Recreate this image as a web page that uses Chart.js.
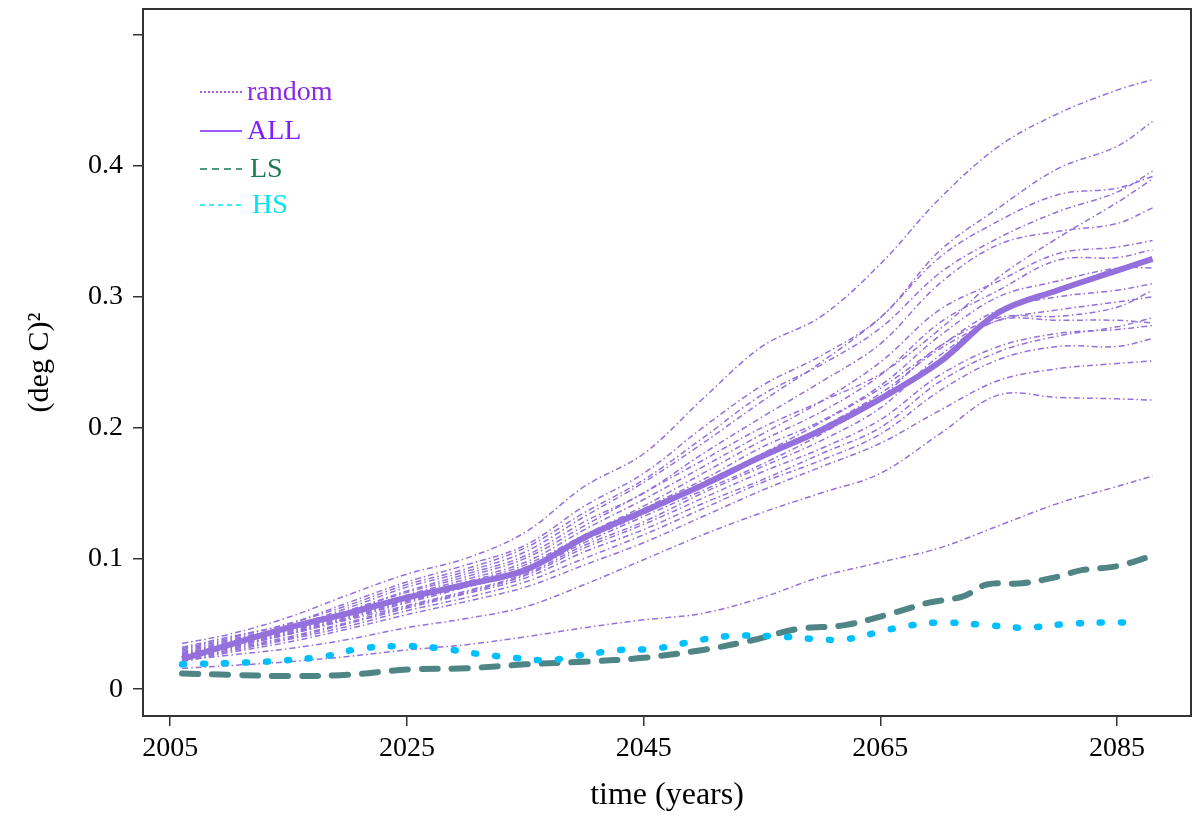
<!DOCTYPE html>
<html>
<head>
<meta charset="utf-8">
<script src="https://cdn.jsdelivr.net/npm/chart.js@4"></script>
<style>
  html, body { margin: 0; padding: 0; background: #fff; }
  #wrap { width: 1200px; height: 823px; }
</style>
</head>
<body>
<div id="wrap"><canvas id="c" width="1200" height="823"></canvas></div>
<script>
// ---------- DATA ----------
const years = [2006, 2010, 2015, 2020, 2025, 2030, 2035, 2040, 2045, 2050, 2055, 2060, 2065, 2070, 2075, 2080, 2085, 2088];

const allVals = [0.023, 0.034, 0.047, 0.058, 0.070, 0.080, 0.091, 0.116, 0.136, 0.156, 0.178, 0.198, 0.222, 0.250, 0.288, 0.305, 0.320, 0.329];

const random01 = [0.035, 0.042, 0.055, 0.072, 0.088, 0.100, 0.120, 0.155, 0.180, 0.222, 0.262, 0.285, 0.325, 0.375, 0.415, 0.440, 0.458, 0.466];
const random02 = [0.032, 0.040, 0.050, 0.066, 0.082, 0.095, 0.110, 0.140, 0.165, 0.200, 0.232, 0.255, 0.284, 0.335, 0.368, 0.398, 0.415, 0.434];
const random03 = [0.030, 0.038, 0.048, 0.062, 0.078, 0.090, 0.105, 0.132, 0.158, 0.188, 0.220, 0.250, 0.284, 0.330, 0.358, 0.378, 0.383, 0.392];
const random04 = [0.028, 0.036, 0.046, 0.060, 0.074, 0.086, 0.100, 0.125, 0.150, 0.175, 0.200, 0.220, 0.241, 0.275, 0.315, 0.345, 0.372, 0.390];
const random05 = [0.029, 0.037, 0.047, 0.060, 0.075, 0.088, 0.102, 0.128, 0.150, 0.180, 0.208, 0.235, 0.264, 0.310, 0.340, 0.350, 0.356, 0.368];
const random06 = [0.027, 0.035, 0.045, 0.058, 0.072, 0.084, 0.097, 0.122, 0.145, 0.170, 0.195, 0.220, 0.250, 0.290, 0.312, 0.333, 0.338, 0.343];
const random07 = [0.026, 0.034, 0.044, 0.057, 0.070, 0.082, 0.095, 0.118, 0.140, 0.165, 0.190, 0.212, 0.240, 0.280, 0.305, 0.328, 0.330, 0.336];
const random08 = [0.025, 0.033, 0.043, 0.055, 0.068, 0.080, 0.093, 0.115, 0.138, 0.160, 0.185, 0.205, 0.232, 0.270, 0.300, 0.312, 0.322, 0.322];
const random09 = [0.024, 0.032, 0.042, 0.054, 0.066, 0.078, 0.090, 0.112, 0.132, 0.152, 0.172, 0.195, 0.223, 0.262, 0.284, 0.285, 0.292, 0.305];
const random10 = [0.026, 0.033, 0.042, 0.053, 0.064, 0.075, 0.088, 0.110, 0.128, 0.150, 0.170, 0.190, 0.215, 0.255, 0.282, 0.282, 0.282, 0.280];
const random11 = [0.022, 0.030, 0.039, 0.050, 0.062, 0.073, 0.085, 0.105, 0.122, 0.142, 0.160, 0.180, 0.200, 0.235, 0.258, 0.270, 0.277, 0.284];
const random12 = [0.022, 0.029, 0.038, 0.048, 0.060, 0.070, 0.082, 0.100, 0.118, 0.138, 0.158, 0.175, 0.195, 0.228, 0.252, 0.262, 0.262, 0.268];
const random13 = [0.021, 0.028, 0.036, 0.046, 0.057, 0.067, 0.078, 0.095, 0.112, 0.132, 0.152, 0.170, 0.188, 0.213, 0.236, 0.245, 0.249, 0.251];
const random14 = [0.022, 0.026, 0.031, 0.038, 0.047, 0.054, 0.063, 0.080, 0.099, 0.118, 0.135, 0.150, 0.165, 0.195, 0.225, 0.223, 0.222, 0.221];
const random15 = [0.016, 0.018, 0.021, 0.025, 0.030, 0.034, 0.040, 0.047, 0.053, 0.058, 0.070, 0.086, 0.097, 0.108, 0.125, 0.142, 0.155, 0.163];
const random16 = [0.031, 0.039, 0.050, 0.064, 0.080, 0.092, 0.108, 0.135, 0.160, 0.192, 0.225, 0.248, 0.276, 0.318, 0.345, 0.365, 0.380, 0.396];
const random17 = [0.025, 0.032, 0.042, 0.054, 0.067, 0.079, 0.091, 0.114, 0.134, 0.156, 0.178, 0.200, 0.226, 0.260, 0.282, 0.290, 0.296, 0.300];
const random18 = [0.023, 0.031, 0.040, 0.051, 0.063, 0.074, 0.087, 0.108, 0.126, 0.146, 0.166, 0.184, 0.206, 0.240, 0.262, 0.272, 0.275, 0.278];
const random19 = [0.027, 0.034, 0.044, 0.056, 0.069, 0.080, 0.093, 0.116, 0.136, 0.158, 0.180, 0.204, 0.230, 0.262, 0.290, 0.300, 0.305, 0.310];

const lsYears = [2006, 2010, 2015, 2020, 2025, 2030, 2035, 2040, 2045, 2050, 2054, 2058, 2062, 2066, 2069, 2072, 2074, 2077, 2080, 2082, 2085, 2088];
const lsVals  = [0.012, 0.011, 0.010, 0.011, 0.015, 0.016, 0.019, 0.021, 0.024, 0.030, 0.037, 0.046, 0.049, 0.058, 0.066, 0.071, 0.080, 0.081, 0.086, 0.091, 0.094, 0.102];

const hsYears = [2006, 2010, 2013, 2018, 2021, 2025, 2028, 2031, 2034, 2037, 2039, 2043, 2046, 2050, 2053, 2057, 2060, 2062, 2065, 2067, 2070, 2074, 2077, 2081, 2084, 2087];
const hsVals  = [0.019, 0.020, 0.021, 0.025, 0.031, 0.033, 0.031, 0.027, 0.024, 0.022, 0.025, 0.030, 0.031, 0.038, 0.041, 0.040, 0.038, 0.038, 0.044, 0.048, 0.051, 0.049, 0.047, 0.050, 0.051, 0.051];

const xTicks = [2005, 2025, 2045, 2065, 2085];
const yTicks = [0, 0.1, 0.2, 0.3, 0.4, 0.5];
const yTickLabels = ['0', '0.1', '0.2', '0.3', '0.4', ''];

const legendLabels = ['random', 'ALL', 'LS', 'HS'];

// ---------- BUILD ----------
const randomSeries = [random01, random02, random03, random04, random05, random06, random07, random08, random09, random10,
                      random11, random12, random13, random14, random15, random16, random17, random18, random19];

const pts = (xs, ys) => xs.map((x, i) => ({ x: x, y: ys[i] }));

const PURPLE = '#9370DB';
const datasets = [];
datasets.push({ label: 'HS', data: pts(hsYears, hsVals), borderColor: '#00BFFF', borderWidth: 6.5,
  borderDash: [2, 19], borderCapStyle: 'round', tension: 0.35, pointRadius: 0 });
datasets.push({ label: 'LS', data: pts(lsYears, lsVals), borderColor: '#4F8585', borderWidth: 6,
  borderDash: [16, 14], borderCapStyle: 'round', tension: 0.35, pointRadius: 0 });
datasets.push({ label: 'ALL', data: pts(years, allVals), borderColor: PURPLE, borderWidth: 6,
  tension: 0.35, pointRadius: 0 });
randomSeries.forEach((s, k) => {
  datasets.push({ label: 'random ' + (k + 1), data: pts(years, s), borderColor: PURPLE, borderWidth: 1.5,
    borderDash: [6, 3, 1.5, 3], tension: 0.35, pointRadius: 0 });
});

const SERIF = "'Liberation Serif', 'Times New Roman', serif";

const boxPlugin = {
  id: 'box',
  afterDraw(chart) {
    const { ctx, chartArea: a } = chart;
    ctx.save();
    ctx.strokeStyle = '#333';
    ctx.lineWidth = 2;
    ctx.strokeRect(a.left, a.top, a.right - a.left, a.bottom - a.top);
    ctx.restore();
  }
};

const legendStyles = [
  { color: '#8A2BE2', dash: [2, 2], x: 247, y: 100 },
  { color: '#7F1FFF', dash: [], x: 247, y: 139 },
  { color: '#1A7A52', dash: [7, 5], x: 250, y: 177 },
  { color: '#00E5EE', dash: [5, 4], x: 252, y: 213 }
];
const legendPlugin = {
  id: 'customLegend',
  afterDraw(chart) {
    const ctx = chart.ctx;
    ctx.save();
    ctx.font = '28px ' + SERIF;
    ctx.textBaseline = 'alphabetic';
    legendLabels.forEach((lab, i) => {
      const st = legendStyles[i];
      ctx.strokeStyle = st.color;
      ctx.lineWidth = 1.5;
      ctx.setLineDash(st.dash);
      ctx.beginPath();
      ctx.moveTo(200, st.y - 8);
      ctx.lineTo(242, st.y - 8);
      ctx.stroke();
      ctx.setLineDash([]);
      ctx.fillStyle = st.color;
      ctx.fillText(lab, st.x, st.y);
    });
    ctx.restore();
  }
};

new Chart(document.getElementById('c'), {
  type: 'line',
  data: { datasets: datasets },
  options: {
    responsive: false,
    animation: false,
    layout: { padding: { top: 9, right: 9, left: 0, bottom: 0 } },
    plugins: { legend: { display: false }, tooltip: { enabled: false } },
    scales: {
      x: {
        type: 'linear',
        min: 2002.7,
        max: 2091.25,
        afterBuildTicks: (s) => { s.ticks = xTicks.map(v => ({ value: v })); },
        afterFit: (s) => { s.height = 107; s.paddingLeft = 0; s.paddingRight = 0; },
        ticks: { color: '#000', font: { family: SERIF, size: 28 }, padding: 6, maxRotation: 0,
                 callback: (v) => String(v) },
        grid: { drawOnChartArea: false, drawTicks: true, tickLength: 10, color: '#333', lineWidth: 1.5 },
        border: { display: true, color: '#333', width: 2 },
        title: { display: true, text: 'time (years)', color: '#000',
                 font: { family: SERIF, size: 32 }, padding: { top: 0, bottom: 8 } }
      },
      y: {
        type: 'linear',
        min: -0.0205,
        max: 0.52,
        afterBuildTicks: (s) => { s.ticks = yTicks.map(v => ({ value: v })); },
        afterFit: (s) => { s.width = 143; s.paddingTop = 0; s.paddingBottom = 0; },
        ticks: { color: '#000', font: { family: SERIF, size: 28 }, padding: 10,
                 callback: (v) => { const i = yTicks.findIndex(t => Math.abs(t - v) < 1e-9); return i >= 0 ? yTickLabels[i] : ''; } },
        grid: { drawOnChartArea: false, drawTicks: true, tickLength: 10, color: '#333', lineWidth: 1.5 },
        border: { display: true, color: '#333', width: 2 },
        title: { display: true, text: '(deg C)²', color: '#000',
                 font: { family: SERIF, size: 30 }, padding: { top: 22, bottom: 0 } }
      }
    }
  },
  plugins: [boxPlugin, legendPlugin]
});
</script>
</body>
</html>
